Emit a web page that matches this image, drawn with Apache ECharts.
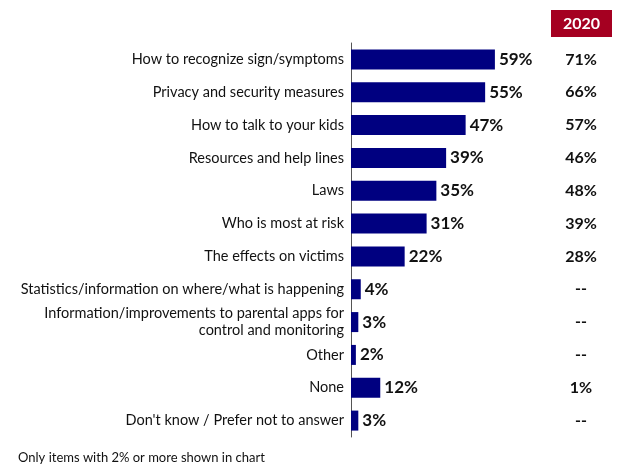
<!DOCTYPE html>
<html><head><meta charset="utf-8">
<script src="https://cdn.jsdelivr.net/npm/echarts@6/dist/echarts.min.js"></script>
<style>html,body{margin:0;padding:0;background:#fff}#c{width:624px;height:468px}</style>
</head><body><div id="c"></div>
<script>
const categories = [
  "How to recognize sign/symptoms",
  "Privacy and security measures",
  "How to talk to your kids",
  "Resources and help lines",
  "Laws",
  "Who is most at risk",
  "The effects on victims",
  "Statistics/information on where/what is happening",
  "Information/improvements to parental apps for\ncontrol and monitoring",
  "Other",
  "None",
  "Don't know / Prefer not to answer"
];
const values2023 = [59, 55, 47, 39, 35, 31, 22, 4, 3, 2, 12, 3];
const values2020 = ["71%", "66%", "57%", "46%", "48%", "39%", "28%", "--", "--", "--", "1%", "--"];
const headerLabel = "2020";
const footnote = "Only items with 2% or more shown in chart";

const font = "Lato, 'Open Sans', sans-serif";
const chart = echarts.init(document.getElementById('c'), null, {renderer: 'canvas'});
chart.setOption({
  animation: false,
  grid: {left: 351, top: 43, width: 200, height: 394, containLabel: false},
  xAxis: {type: 'value', min: 0, max: 82, show: false},
  yAxis: [{
    type: 'category', data: categories, inverse: true,
    axisLine: {show: true, lineStyle: {color: '#555', width: 1}},
    axisTick: {show: false},
    axisLabel: {color: '#111', fontFamily: font, fontSize: 14.5, margin: 7, align: 'right', lineHeight: 17}
  }, {
    type: 'category', data: values2020, inverse: true, position: 'right',
    axisLine: {show: false}, axisTick: {show: false},
    axisLabel: {color: '#111', fontFamily: font, fontSize: 16, fontWeight: 'bold', margin: 30, align: 'center'}
  }],
  series: [{
    type: 'bar', data: values2023, barWidth: 20, yAxisIndex: 0,
    itemStyle: {color: '#000080'},
    label: {show: true, position: 'right', distance: 4, formatter: '{c}%', color: '#111',
      fontFamily: font, fontSize: 17, fontWeight: 'bold'}
  }],
  graphic: [
    {type: 'rect', shape: {x: 551, y: 10, width: 61, height: 27}, style: {fill: '#a50021'}},
    {type: 'text', x: 581.5, y: 23.5, style: {text: headerLabel, fill: '#fff', font: 'bold 16px ' + font, align: 'center', verticalAlign: 'middle'}},
    {type: 'text', x: 18, y: 458, style: {text: footnote, fill: '#111', font: '13px ' + font, verticalAlign: 'middle'}}
  ]
});
</script></body></html>
